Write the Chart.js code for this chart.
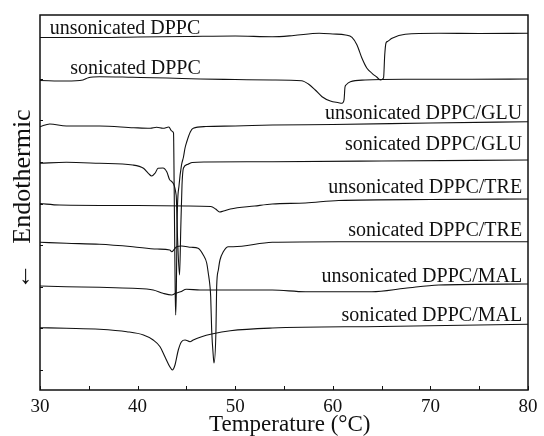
<!DOCTYPE html>
<html>
<head>
<meta charset="utf-8">
<script src="https://cdn.jsdelivr.net/npm/chart.js@4.4.1/dist/chart.umd.min.js"></script>
<style>
  html, body { margin: 0; padding: 0; background: #fff; }
  #wrap { width: 544px; height: 436px; }
</style>
</head>
<body>
<div id="wrap"><canvas id="myChart" width="544" height="436"></canvas></div>
<script>
// DSC thermograms, stacked. x = temperature (°C), y = heat flow (arbitrary units incl. offset)
const seriesNames = [
  'unsonicated DPPC', 'sonicated DPPC',
  'unsonicated DPPC/GLU', 'sonicated DPPC/GLU',
  'unsonicated DPPC/TRE', 'sonicated DPPC/TRE',
  'unsonicated DPPC/MAL', 'sonicated DPPC/MAL'
];

const tUnsonDPPC = [30, 35, 40, 45, 50, 53.8, 56, 58.6, 60, 61.3, 61.97, 62.48, 62.99, 63.5, 64.02, 64.53, 64.87, 65.2, 65.32, 65.45, 65.6, 66.07, 67.43, 70.85, 75, 80];
const hUnsonDPPC = [352.5, 352.5, 353, 353.5, 354, 353.3, 354.5, 356.7, 356, 355, 352.7, 345, 331.7, 321.7, 316.7, 312.7, 310, 312, 335, 347, 348.5, 351.7, 355.7, 356.7, 356.5, 356.7];

const tSonDPPC = [30, 32.7, 34.4, 34.95, 36.1, 39.5, 43, 46.4, 50, 53.8, 56.8, 57.5, 58.2, 58.9, 59.75, 60.6, 60.94, 61.15, 61.25, 61.35, 61.8, 63.3, 67.4, 74.3, 80];
const hSonDPPC = [309.5, 309, 310, 312.3, 313.3, 312.7, 312, 311, 310.5, 310, 309.3, 306, 300, 293.3, 289, 287.3, 286.7, 290, 303, 305, 308.3, 310, 310.7, 310.7, 311];

const tUnsonGLU = [30, 31, 32.7, 36.1, 39.6, 41.3, 41.95, 42.6, 43.2, 43.5, 43.68, 43.75, 43.85, 43.9, 43.97, 44.05, 44.25, 44.5, 44.7, 44.86, 45.03, 45.4, 45.7, 47, 50, 53.8, 60, 70, 80];
const hUnsonGLU = [263.3, 266, 264, 264, 262.3, 261.7, 262.7, 261.7, 263, 259, 257, 200, 100, 75, 100, 170, 205, 225, 233, 242, 248, 258, 261.7, 263.5, 264, 265, 265.5, 267, 268.3];

const tSonGLU = [30, 32.7, 36.1, 39.5, 40.6, 41.1, 41.45, 41.8, 42.1, 42.6, 43, 43.3, 43.95, 44.1, 44.3, 44.42, 44.55, 44.7, 45.1, 45.6, 47, 53.8, 65, 80];
const hSonGLU = [226.7, 227.7, 226.7, 225, 221.7, 216.7, 214, 217, 221.7, 222, 218, 210, 195, 150, 115, 160, 205, 222, 225.5, 227.5, 228, 228.3, 229, 230];

const tUnsonTRE = [30, 32, 40, 45, 47.5, 48, 48.4, 48.8, 49.5, 52, 53.8, 57.2, 60.6, 70, 80];
const hUnsonTRE = [186.5, 185, 184.5, 184, 183.5, 181, 178, 179, 181, 184, 186, 187, 189.5, 190.5, 191];

const tSonTRE = [30, 32.7, 36.1, 39.5, 42, 43.3, 43.5, 44, 44.5, 45.5, 46.2, 46.73, 47.08, 47.24, 47.42, 47.49, 47.59, 47.76, 47.83, 48.03, 48.1, 48.27, 48.44, 48.78, 49.3, 49.8, 53.8, 60.6, 70, 80];
const hSonTRE = [147.7, 146.7, 145.7, 143.3, 141, 140, 138.3, 143.3, 144, 142.7, 141.7, 135, 127, 117, 103.3, 93.3, 60, 33.3, 27, 60, 103.3, 120, 130, 138.3, 143.3, 143.3, 147.7, 148.3, 148.3, 148.3];

const tUnsonMAL = [30, 32.7, 36.1, 39.5, 41.6, 42.6, 43.5, 43.9, 44.4, 45, 46.4, 49.8, 53.8, 57.2, 64, 67.4, 70.85, 80];
const hUnsonMAL = [104, 103.3, 102.7, 101.7, 100, 96.7, 95, 96.7, 98.3, 100.7, 100, 100, 100, 98.3, 98.3, 101.7, 105, 106];

const tSonMAL = [30, 32.7, 36.1, 38.9, 40.6, 41.6, 42.3, 42.8, 43.3, 43.56, 43.83, 44.17, 44.5, 44.86, 45.37, 45.7, 46.56, 47.6, 49.5, 53.8, 65, 80];
const hSonMAL = [62.3, 61.7, 60.7, 58.3, 55, 50, 43.3, 33.3, 23.3, 20, 25, 40, 48.3, 50, 48.3, 50, 53.3, 56, 59.3, 62, 63.5, 65.7];

const xTickLabels = [30, 40, 50, 60, 70, 80];
const xTickMarks = [30, 35, 40, 45, 50, 55, 60, 65, 70, 75, 80];
const yTickMarks = [20, 61.6, 103.2, 144.8, 186.4, 228, 269.6, 311.2, 352.8];

const temps = [tUnsonDPPC, tSonDPPC, tUnsonGLU, tSonGLU, tUnsonTRE, tSonTRE, tUnsonMAL, tSonMAL];
const flows = [hUnsonDPPC, hSonDPPC, hUnsonGLU, hSonGLU, hUnsonTRE, hSonTRE, hUnsonMAL, hSonMAL];

// where each curve's name sits: [temperature, heat flow, align]
const labelSpots = [
  [31.0, 361, 'left'], [33.1, 321, 'left'],
  [79.4, 276, 'right'], [79.4, 245, 'right'],
  [79.4, 202, 'right'], [79.4, 159, 'right'],
  [79.4, 113, 'right'], [79.4, 74, 'right']
];

const serif = "'Liberation Serif', 'Times New Roman', serif";
const nb = '\u00a0';

const datasets = seriesNames.map(function(name, i){
  return {
    label: name,
    data: temps[i].map(function(t, j){ return { x: t, y: flows[i][j] }; }),
    borderColor: '#111',
    borderWidth: 1.1,
    pointRadius: 0,
    fill: false,
    cubicInterpolationMode: 'monotone'
  };
});

const framePlugin = {
  id: 'frameAndTicks',
  afterDatasetsDraw(chart){
    const ctx = chart.ctx;
    const a = chart.chartArea;
    const xs = chart.scales.x, ys = chart.scales.y;
    ctx.save();
    ctx.strokeStyle = '#111';
    ctx.lineWidth = 1.5;
    ctx.strokeRect(a.left, a.top, a.right - a.left, a.bottom - a.top);
    ctx.lineWidth = 1;
    ctx.beginPath();
    xTickMarks.forEach(function(v){
      const px = Math.round(xs.getPixelForValue(v)) + 0.5;
      ctx.moveTo(px, a.bottom);
      ctx.lineTo(px, a.bottom - 4);
    });
    yTickMarks.forEach(function(v){
      const py = Math.round(ys.getPixelForValue(v)) + 0.5;
      ctx.moveTo(a.left, py);
      ctx.lineTo(a.left + 3, py);
    });
    ctx.stroke();

    ctx.fillStyle = '#111';
    ctx.font = '20px ' + serif;
    ctx.textBaseline = 'middle';
    seriesNames.forEach(function(name, i){
      const s = labelSpots[i];
      ctx.textAlign = s[2];
      ctx.fillText(name, xs.getPixelForValue(s[0]), ys.getPixelForValue(s[1]));
    });
    ctx.restore();
  }
};

const ctx = document.getElementById('myChart');

new Chart(ctx, {
  type: 'line',
  data: { datasets: datasets },
  options: {
    responsive: false,
    animation: false,
    devicePixelRatio: 1,
    layout: { padding: { top: 15, right: 16, left: 0, bottom: 0 } },
    plugins: {
      legend: { display: false },
      tooltip: { enabled: false }
    },
    scales: {
      x: {
        type: 'linear',
        min: 30,
        max: 80,
        afterBuildTicks: function(scale){ scale.ticks = xTickLabels.map(function(v){ return { value: v }; }); },
        afterFit: function(scale){ scale.height = 46; },
        grid: { display: false, drawTicks: false },
        border: { display: false },
        ticks: { color: '#111', padding: 6, font: { family: serif, size: 19 } },
        title: {
          display: true,
          text: nb + nb + 'Temperature (°C)',
          color: '#111',
          padding: 0,
          font: { family: serif, size: 23, lineHeight: 1 }
        }
      },
      y: {
        type: 'linear',
        min: 0,
        max: 375,
        afterFit: function(scale){ scale.width = 40; },
        grid: { display: false, drawTicks: false },
        border: { display: false },
        ticks: { display: false },
        title: {
          display: true,
          text: nb + '\u2190' + nb + nb + nb + 'Endothermic',
          color: '#111',
          padding: { top: 10, bottom: 0 },
          font: { family: serif, size: 26, lineHeight: 1 }
        }
      }
    }
  },
  plugins: [framePlugin]
});
</script>
</body>
</html>
